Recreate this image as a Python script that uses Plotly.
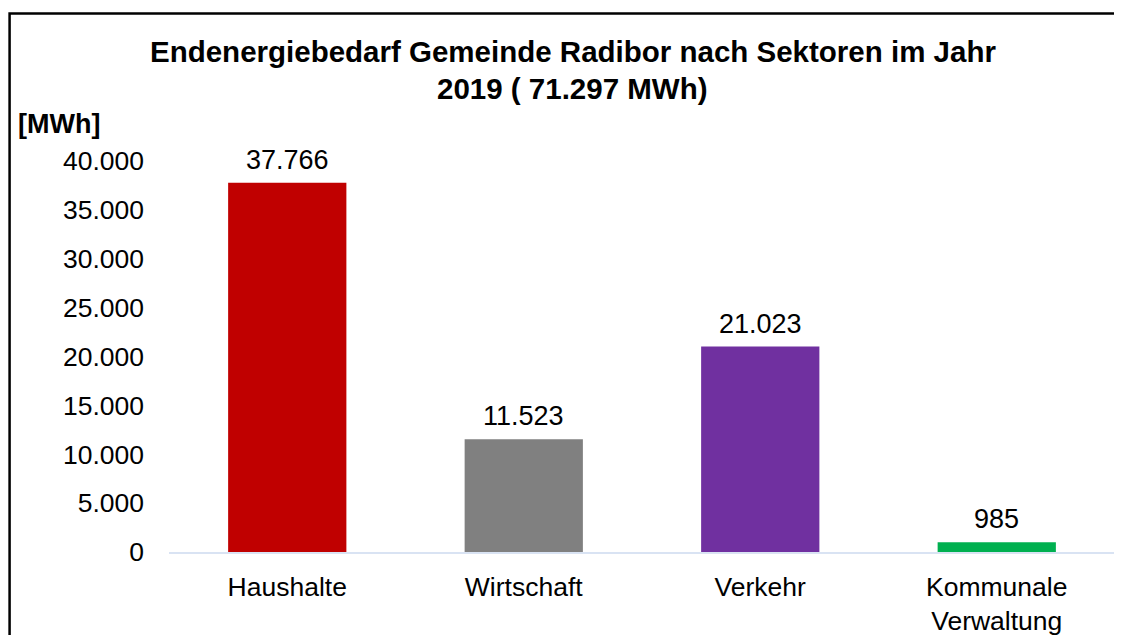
import plotly.graph_objects as go

categories = ["Haushalte", "Wirtschaft", "Verkehr", "Kommunale<br>Verwaltung"]
values = [37766, 11523, 21023, 985]
value_labels = ["37.766", "11.523", "21.023", "985"]
bar_colors = ["#C00000", "#808080", "#7030A0", "#00B050"]
y_tickvals = [0, 5000, 10000, 15000, 20000, 25000, 30000, 35000, 40000]
y_ticktext = ["0", "5.000", "10.000", "15.000", "20.000", "25.000", "30.000", "35.000", "40.000"]

# page offset (default body margin of the html page)
O = 8
W, H = 1122 - O, 635 - O
PL, PR, PT, PB = 169, 1115.5, 161, 552  # plot area in page pixels
L, R, T, B = PL - O, (1122 - PR), PT - O, 635 - PB
pw = PR - PL
ph = PB - PT

def px_x(x):
    return (x - PL) / pw

def px_y(y):
    return 1 - (y - PT) / ph

FONT = "Liberation Sans, Arial, sans-serif"

fig = go.Figure()
fig.add_trace(go.Bar(
    x=categories, y=values, marker=dict(color=bar_colors, line=dict(width=0)),
    hoverinfo="skip", showlegend=False,
))

annotations = []
for c, v, t in zip(categories, values, value_labels):
    annotations.append(dict(x=c, y=v, xref="x", yref="y", text=t, showarrow=False,
                            yanchor="bottom", yshift=6,
                            font=dict(family=FONT, size=27, color="#000000")))

annotations.append(dict(x=px_x(573), y=px_y(52), xref="paper", yref="paper",
                        text="<b>Endenergiebedarf Gemeinde Radibor nach Sektoren im Jahr</b>",
                        showarrow=False, xanchor="center", yanchor="middle",
                        font=dict(family=FONT, size=29.5, color="#000000")))
annotations.append(dict(x=px_x(573), y=px_y(88), xref="paper", yref="paper",
                        text="<b>2019 ( 71.297 MWh)</b>",
                        showarrow=False, xanchor="center", yanchor="middle",
                        font=dict(family=FONT, size=29.5, color="#000000")))
annotations.append(dict(x=px_x(16), y=px_y(124), xref="paper", yref="paper",
                        text="<b>[MWh]</b>", showarrow=False, xanchor="left", yanchor="middle",
                        font=dict(family=FONT, size=27, color="#000000")))

# chart frame: only left and top edges are visible in the picture
bx, by_top, by_bot, bx_right = px_x(9.5), px_y(13.5), px_y(660), px_x(1140)
shapes = [dict(type="path", xref="paper", yref="paper",
               path=f"M {bx},{by_bot} L {bx},{by_top} L {bx_right},{by_top}",
               line=dict(color="#000000", width=2.5), fillcolor="rgba(0,0,0,0)",
               layer="above")]

fig.update_layout(
    width=W, height=H,
    margin=dict(l=L, r=R, t=T, b=B, pad=0, autoexpand=False),
    paper_bgcolor="#FFFFFF", plot_bgcolor="#FFFFFF",
    bargap=0.5,
    annotations=annotations,
    shapes=shapes,
    font=dict(family=FONT, size=26.5, color="#000000"),
    xaxis=dict(showline=True, linecolor="#D9E3F3", linewidth=2, showgrid=False,
               ticks="", tickfont=dict(family=FONT, size=26.5, color="#000000"),
               ticklabelstandoff=10, fixedrange=True),
    yaxis=dict(range=[0, 40000], tickvals=y_tickvals, ticktext=y_ticktext,
               showline=False, showgrid=False, zeroline=False, ticks="",
               tickfont=dict(family=FONT, size=26.5, color="#000000"),
               ticklabelstandoff=24, fixedrange=True),
)

fig.update_traces(cliponaxis=False)
fig.write_html("out.html", config={"displayModeBar": False})
